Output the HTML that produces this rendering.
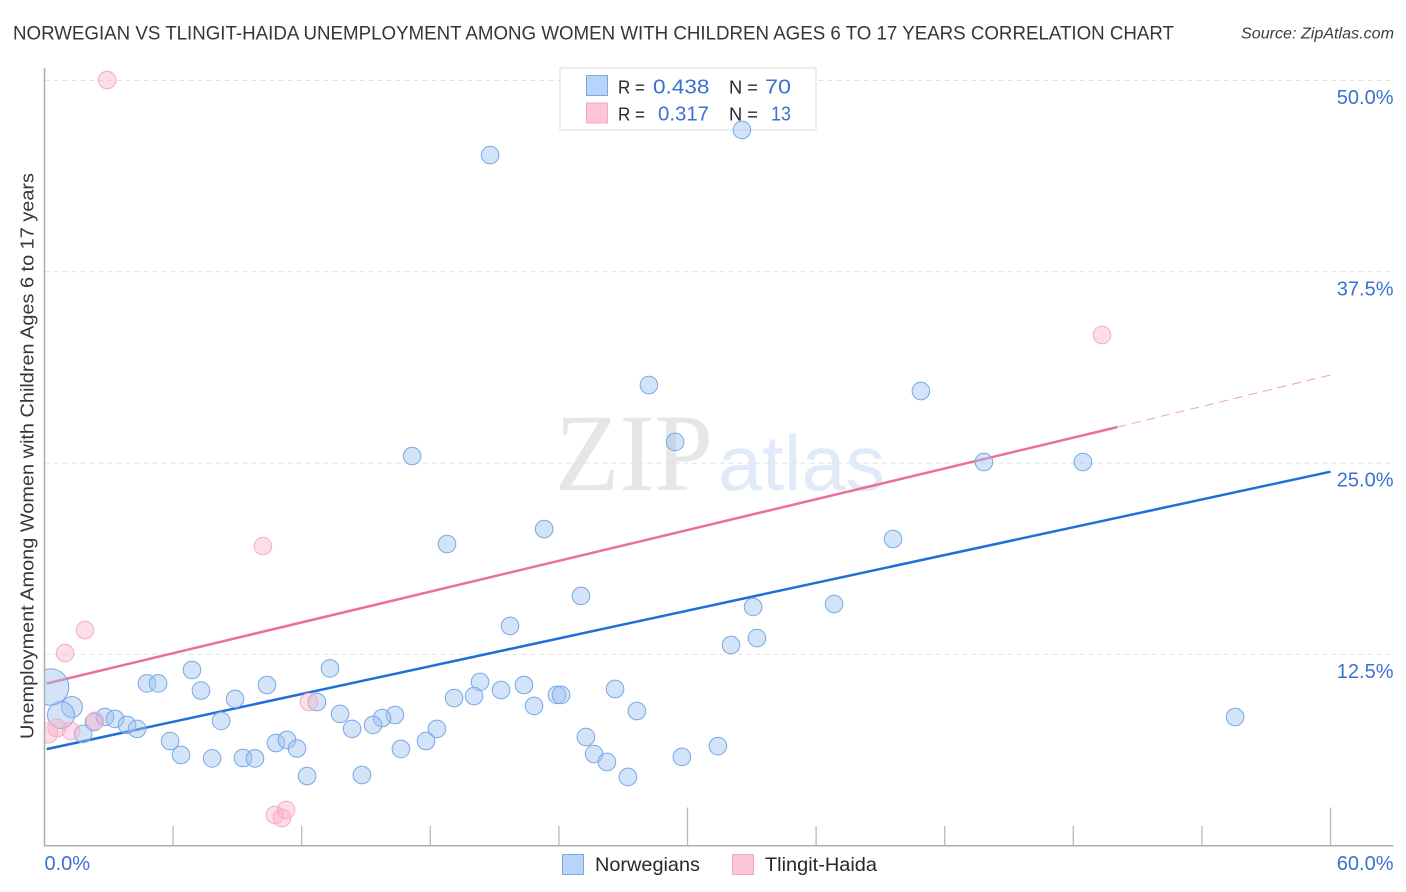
<!DOCTYPE html>
<html lang="en">
<head>
<meta charset="utf-8">
<title>Norwegian vs Tlingit-Haida Unemployment Correlation Chart</title>
<style>
html,body{margin:0;padding:0;background:#fff;width:1406px;height:892px;overflow:hidden}
svg{display:block}
text{font-family:"Liberation Sans",sans-serif}
</style>
</head>
<body>
<svg id="chart" xmlns="http://www.w3.org/2000/svg" width="1406" height="892" viewBox="0 0 1406 892">
  <text x="13" y="39.5" font-size="19.5" fill="#33363c" textLength="1161" lengthAdjust="spacingAndGlyphs">NORWEGIAN VS TLINGIT-HAIDA UNEMPLOYMENT AMONG WOMEN WITH CHILDREN AGES 6 TO 17 YEARS CORRELATION CHART</text>
  <text x="1241" y="38.5" font-size="15.5" font-style="italic" fill="#3a3d44" textLength="153" lengthAdjust="spacingAndGlyphs">Source: ZipAtlas.com</text>
  <text x="555" y="490" font-size="110" style="font-family:'Liberation Serif',serif" fill="#e6e6e6" textLength="158" lengthAdjust="spacingAndGlyphs">ZIP</text>
  <text x="718" y="490" font-size="78" fill="#e0eaf8" textLength="167" lengthAdjust="spacingAndGlyphs">atlas</text>
  <g id="grid"></g>
  <g id="trends"></g>
  <g>
    <rect x="560" y="68" width="256" height="62" fill="#fff" stroke="#dcdde0" stroke-width="1"/>
    <rect x="586.5" y="75.5" width="21" height="20" fill="#b8d4f8" stroke="#7aa8e6" stroke-width="1"/>
    <rect x="586.5" y="103" width="21" height="20" fill="#fcc5d8" stroke="#f4a8c0" stroke-width="1"/>
    <text x="618" y="93.5" font-size="18.5" fill="#26282e" textLength="27" lengthAdjust="spacingAndGlyphs">R =</text>
    <text x="653" y="93.5" font-size="20.5" fill="#3a72cf" textLength="56.5" lengthAdjust="spacingAndGlyphs">0.438</text>
    <text x="729" y="93.5" font-size="18.5" fill="#26282e" textLength="29" lengthAdjust="spacingAndGlyphs">N =</text>
    <text x="765" y="93.5" font-size="20.5" fill="#3a72cf" textLength="26" lengthAdjust="spacingAndGlyphs">70</text>
    <text x="618" y="120.5" font-size="18.5" fill="#26282e" textLength="27" lengthAdjust="spacingAndGlyphs">R =</text>
    <text x="658" y="120.5" font-size="20.5" fill="#3a72cf" textLength="51" lengthAdjust="spacingAndGlyphs">0.317</text>
    <text x="729" y="120.5" font-size="18.5" fill="#26282e" textLength="29" lengthAdjust="spacingAndGlyphs">N =</text>
    <text x="771" y="120.5" font-size="20.5" fill="#3a72cf" textLength="20" lengthAdjust="spacingAndGlyphs">13</text>
  </g>
  <g id="points"></g>
  <rect x="0" y="60" width="44.5" height="786" fill="#fff"/>
  <text transform="translate(33.5 739) rotate(-90)" font-size="18.5" fill="#33363c" textLength="566" lengthAdjust="spacingAndGlyphs">Unemployment Among Women with Children Ages 6 to 17 years</text>
  <g id="axes"></g>
  <g>
    <rect x="562.5" y="854.5" width="21" height="20" fill="#b8d4f8" stroke="#7aa8e6" stroke-width="1"/>
    <text x="595" y="871" font-size="19.5" fill="#26282e" textLength="105" lengthAdjust="spacingAndGlyphs">Norwegians</text>
    <rect x="732.5" y="854.5" width="21" height="20" fill="#fcc5d8" stroke="#f4a8c0" stroke-width="1"/>
    <text x="765" y="871" font-size="19.5" fill="#26282e" textLength="112" lengthAdjust="spacingAndGlyphs">Tlingit-Haida</text>
  </g>
</svg>
<script>
const yTickValues = [12.5, 25, 37.5, 50];
const yTickLabels = ["12.5%", "25.0%", "37.5%", "50.0%"];
const xTickValues = [0, 6, 12, 18, 24, 30, 36, 42, 48, 54, 60];
const xMajorTicks = [30, 60];
const xEndValues = [0, 60];
const xEndLabels = ["0.0%", "60.0%"];

const norwegianX = [20.79,32.54,28.20,40.89,29.42,17.15,43.83,48.45,23.31,18.78,39.59,25.03,33.06,36.84,21.72,33.24,32.03,6.88,13.32,4.78,5.30,7.30,10.38,8.89,12.71,20.32,22.37,26.62,21.30,20.04,19.11,23.91,24.10,22.84,27.64,13.79,16.35,15.75,15.33,8.24,14.35,18.31,17.80,16.63,25.26,31.42,29.74,25.64,26.24,27.22,55.55,5.86,6.37,7.82,9.26,9.82,10.80,11.31,11.78,12.25,14.81,2.82,3.29,3.85,4.32,2.31,1.80,1.28,0.77,0.28];
const norwegianY = [45.13,46.77,30.10,29.71,26.38,25.46,25.07,25.07,20.69,19.71,20.04,16.32,15.60,15.79,14.36,13.57,13.11,11.48,11.58,10.60,10.60,10.14,10.50,9.59,9.39,10.70,10.50,10.24,10.17,9.78,9.65,9.85,9.85,9.13,8.80,8.61,8.54,8.34,7.89,8.15,7.63,7.63,6.84,6.32,7.10,6.51,5.80,5.99,5.47,4.49,8.41,6.84,5.93,5.70,5.73,5.70,6.71,6.91,6.35,4.55,4.62,8.41,8.28,7.89,7.63,8.08,7.30,9.06,8.54,10.37];
const norwegianWeight = [1,1,1,1,1,1,1,1,1,1,1,1,1,1,1,1,1,1,1,1,1,1,1,1,1,1,1,1,1,1,1,1,1,1,1,1,1,1,1,1,1,1,1,1,1,1,1,1,1,1,1,1,1,1,1,1,1,1,1,1,1,1,1,1,1,1,1,1.42,2.35,4.3];

const tlingitX = [2.92,49.34,10.19,1.89,0.96,12.34,2.36,0.58,1.24,0.16,10.75,11.27,11.08];
const tlingitY = [50.03,33.37,19.58,14.09,12.59,9.39,8.15,7.69,7.49,7.36,2.01,2.33,1.81];
const tlingitWeight = [1,1,1,1,1,1,1,1.05,1,1.3,1,1,1];

const norwegianTrendX = [0.1, 60];
const norwegianTrendY = [6.31, 24.44];
const tlingitTrendX = [0.1, 50.05];
const tlingitTrendY = [10.6, 27.35];
const tlingitForecastX = [50.05, 60];
const tlingitForecastY = [27.35, 30.76];

const SVGNS = "http://www.w3.org/2000/svg";
const xScale = v => 44.5 + v * (1286 / 60);
const yScale = v => 845.7 - v * 15.304;
const radius = w => 8.8 * Math.sqrt(w);

function make(parent, tag, attrs, content) {
  const node = document.createElementNS(SVGNS, tag);
  for (const k in attrs) node.setAttribute(k, attrs[k]);
  if (content !== undefined) node.textContent = content;
  parent.appendChild(node);
  return node;
}

const gridG = document.getElementById("grid");
const axesG = document.getElementById("axes");
const trendsG = document.getElementById("trends");
const pointsG = document.getElementById("points");

yTickValues.forEach((v, i) => {
  const line = make(gridG, "line", {x1: 44.5, x2: 1393, y1: yScale(v), y2: yScale(v), stroke: "#e0e0e0", "stroke-width": 1, "stroke-dasharray": "5 4"});
  
  
  const label = make(axesG, "text", {x: 1393.5, y: yScale(v) + 23.5, "font-size": 20, fill: "#3a72cf", "text-anchor": "end"}, yTickLabels[i]);
  
  
});

const yAxis = make(axesG, "line", {x1: 44.5, x2: 44.5, y1: 68, y2: 846, stroke: "#aeaeae", "stroke-width": 1.5});


const xAxis = make(axesG, "line", {x1: 44, x2: 1393.5, y1: 845.8, y2: 845.8, stroke: "#aeaeae", "stroke-width": 1.5});



xTickValues.forEach(v => {
  if (v === 0) return;
  const top = xMajorTicks.includes(v) ? 807.5 : 826;
  const tick = make(axesG, "line", {x1: xScale(v), x2: xScale(v), y1: top, y2: 845.8, stroke: "#b8b8b8", "stroke-width": 1.3});
  
  
});

xEndValues.forEach((v, i) => {
  const anchor = i === 0 ? "start" : "end";
  const px = i === 0 ? xScale(v) : 1393.5;
  const label = make(axesG, "text", {x: px, y: 870, "font-size": 20, fill: "#3a72cf", "text-anchor": anchor}, xEndLabels[i]);
  
  
});

const blueLine = make(trendsG, "line", {x1: xScale(norwegianTrendX[0]), y1: yScale(norwegianTrendY[0]), x2: xScale(norwegianTrendX[1]), y2: yScale(norwegianTrendY[1]), stroke: "#1f6fd8", "stroke-width": 2.5});


const pinkLine = make(trendsG, "line", {x1: xScale(tlingitTrendX[0]), y1: yScale(tlingitTrendY[0]), x2: xScale(tlingitTrendX[1]), y2: yScale(tlingitTrendY[1]), stroke: "#e96f9c", "stroke-width": 2.5});


const pinkDash = make(trendsG, "line", {x1: xScale(tlingitForecastX[0]), y1: yScale(tlingitForecastY[0]), x2: xScale(tlingitForecastX[1]), y2: yScale(tlingitForecastY[1]), stroke: "#e9a0ba", "stroke-width": 1, "stroke-dasharray": "9 6"});



norwegianX.forEach((v, i) => {
  const dot = make(pointsG, "circle", {cx: xScale(v), cy: yScale(norwegianY[i]), r: radius(norwegianWeight[i]), fill: "rgba(160,196,240,0.45)", stroke: "#78a8e4", "stroke-width": 1});
  
  
});
tlingitX.forEach((v, i) => {
  const dot = make(pointsG, "circle", {cx: xScale(v), cy: yScale(tlingitY[i]), r: radius(tlingitWeight[i]), fill: "rgba(250,175,200,0.42)", stroke: "#f4adc4", "stroke-width": 1});
  
  
});
</script>
</body>
</html>
